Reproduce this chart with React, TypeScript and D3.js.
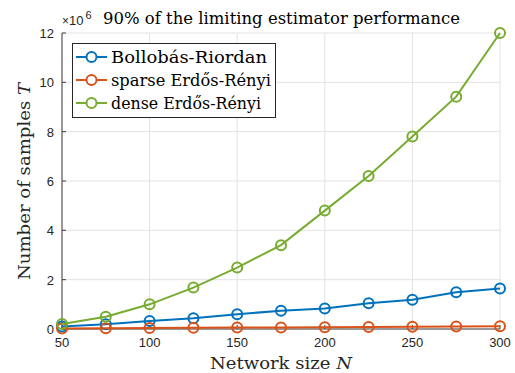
import React from "react";
import * as d3 from "d3";

const networkSizes = [50, 75, 100, 125, 150, 175, 200, 225, 250, 275, 300];
const bollobasRiordan = [0.1, 0.19, 0.32, 0.44, 0.6, 0.74, 0.83, 1.04, 1.19, 1.49, 1.64];
const sparseER = [0.02, 0.03, 0.04, 0.05, 0.06, 0.06, 0.07, 0.08, 0.09, 0.1, 0.11];
const denseER = [0.2, 0.5, 1.0, 1.68, 2.49, 3.4, 4.8, 6.2, 7.8, 9.42, 12.0];
const xTicks = [50, 100, 150, 200, 250, 300];
const yTicks = [0, 2, 4, 6, 8, 10, 12];
const seriesNames = ["Bollobás-Riordan", "sparse Erdős-Rényi", "dense Erdős-Rényi"];
const seriesColors = ["#0072BD", "#D95319", "#77AC30"];

const W = 515, H = 373;
const L = 62, R = 500, T = 33, B = 329;

export default function App() {
  const x = d3.scaleLinear().domain([50, 300]).range([L, R]);
  const y = d3.scaleLinear().domain([0, 12]).range([B, T]);
  const line = d3.line<number>().x((_, i) => x(networkSizes[i])).y((d) => y(d));
  const allSeries = [bollobasRiordan, sparseER, denseER];
  const serif = "DejaVu Serif";
  const sans = "Liberation Sans, Arial, sans-serif";
  return (
    <svg width={W} height={H} style={{ position: "absolute", left: 0, top: 0, background: "#fff" }}>
      <rect x={0} y={0} width={W} height={H} fill="#fff" />
      {xTicks.map((t) => (
        <line key={"gx" + t} x1={x(t)} x2={x(t)} y1={T} y2={B} stroke="#e3e3e3" strokeWidth={1} />
      ))}
      {yTicks.map((t) => (
        <line key={"gy" + t} x1={L} x2={R} y1={y(t)} y2={y(t)} stroke="#e3e3e3" strokeWidth={1} />
      ))}
      <line x1={L} x2={L} y1={T} y2={B} stroke="#404040" strokeWidth={1} />
      <line x1={L} x2={R} y1={B} y2={B} stroke="#404040" strokeWidth={1} />
      {xTicks.map((t) => (
        <g key={"xt" + t}>
          <line x1={x(t)} x2={x(t)} y1={B} y2={B - 4} stroke="#404040" />
          <text x={x(t)} y={B + 18} textAnchor="middle" fontFamily={sans} fontSize={13} fill="#262626">{t}</text>
        </g>
      ))}
      {yTicks.map((t) => (
        <g key={"yt" + t}>
          <line x1={L} x2={L + 4} y1={y(t)} y2={y(t)} stroke="#404040" />
          <text x={L - 8} y={y(t) + 5} textAnchor="end" fontFamily={sans} fontSize={13} fill="#262626">{t}</text>
        </g>
      ))}
      <text x={62} y={25} fontFamily={sans} fontSize={13} fill="#262626">
        <tspan fontSize={12}>×</tspan>10<tspan dx={2} dy={-6} fontSize={11}>6</tspan>
      </text>
      <text x={103} y={24} fontFamily={serif} fontSize={16} fill="#000" textLength={357} lengthAdjust="spacingAndGlyphs">90% of the limiting estimator performance</text>
      <text x={281} y={369} textAnchor="middle" fontFamily={serif} fontSize={17} fill="#262626" textLength={142} lengthAdjust="spacingAndGlyphs">Network size <tspan fontStyle="italic">N</tspan></text>
      <text transform={`translate(30,181.5) rotate(-90)`} textAnchor="middle" fontFamily={serif} fontSize={17} fill="#262626" textLength={197} lengthAdjust="spacingAndGlyphs">Number of samples <tspan fontStyle="italic">T</tspan></text>
      {allSeries.map((s, k) => (
        <g key={"s" + k}>
          <path d={line(s) || ""} fill="none" stroke={seriesColors[k]} strokeWidth={2} />
          {s.map((v, i) => (
            <circle key={i} cx={x(networkSizes[i])} cy={y(v)} r={5} fill="none" stroke={seriesColors[k]} strokeWidth={2} />
          ))}
        </g>
      ))}
      <rect x={72.5} y={43.5} width={203} height={74} fill="#fff" stroke="#262626" strokeWidth={1} />
      {seriesNames.map((n, k) => {
        const ly = 57 + k * 23;
        return (
          <g key={"l" + k}>
            <line x1={76} x2={107} y1={ly} y2={ly} stroke={seriesColors[k]} strokeWidth={2} />
            <circle cx={91.5} cy={ly} r={5} fill="#fff" stroke={seriesColors[k]} strokeWidth={2} />
            <text x={111} y={ly + 6} fontFamily={serif} fontSize={16} fill="#000" textLength={[156, 160, 150][k]} lengthAdjust="spacingAndGlyphs">{n}</text>
          </g>
        );
      })}
    </svg>
  );
}
